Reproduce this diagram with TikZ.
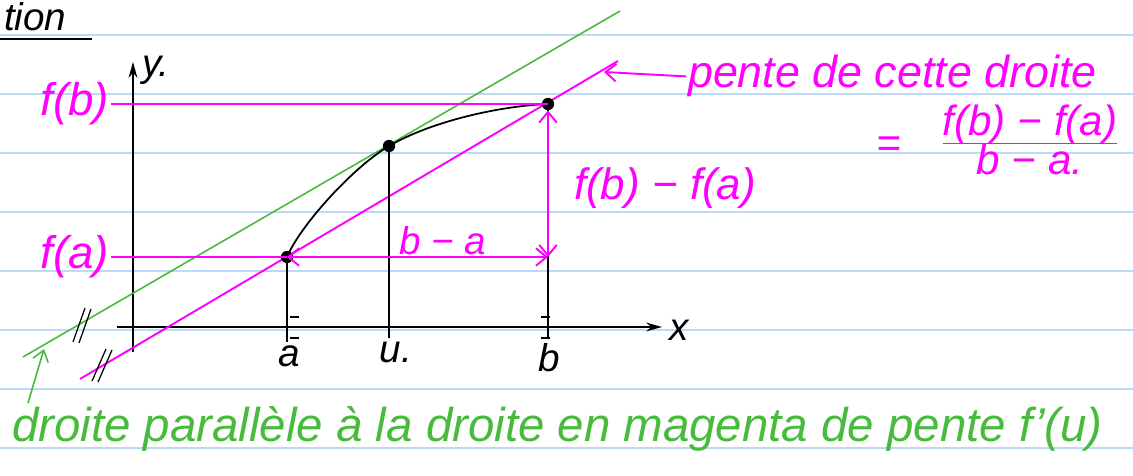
\documentclass[tikz,border=0pt]{standalone}
\usepackage{fontspec}
\setmainfont{Liberation Sans}
\usepackage{xcolor}
\usepackage{tikz}
\usetikzlibrary{
  arrows.meta
}
\definecolor{rulecol}{RGB}{188,218,245}
\definecolor{penmag}{RGB}{255,0,255}
\definecolor{pengreen}{RGB}{72,186,60}
\tikzset{
  >=Latex,
  ruling/.style={rulecol,line width=1pt},
  ink/.style={black,line width=1pt},
  thinink/.style={black,line width=0.7pt},
  magline/.style={penmag,line width=1.1pt},
  grnline/.style={pengreen,line width=0.9pt},
  magarrow/.style={penmag,line width=1.1pt,{Straight Barb[length=6pt,width=10pt]}-{Straight Barb[length=6pt,width=10pt]}},
  axarrow/.style={ink,-{Stealth[length=9pt,width=5pt]}},
  bullet/.style={circle,fill=black,inner sep=0pt,minimum size=7pt},
  hand/.style={font=\fontsize{#1}{#1}\selectfont\itshape,inner sep=1pt},
  hand/.default=22,
  maglabel/.style={hand=#1,text=penmag},
  maglabel/.default=22,
  grnlabel/.style={hand=#1,text=pengreen},
  grnlabel/.default=22,
  axlabel/.style={hand,text=black}
}

\begin{document}
\begin{tikzpicture}[x=0.02cm,y=-0.02cm]
    \useasboundingbox (0,0) rectangle (1133,476);
    \foreach \y in {35,94,153,212,271,330,389,448}
        \draw[ruling] (0,\y) -- (1133,\y);

    \node[axlabel,anchor=base west] (title) at (2,31) {tion};
    \draw[ink] (0,39) -- (92,39);

    % axes
    \coordinate (ybot) at (133,352);
    \coordinate (ytop) at (133,62);
    \coordinate (xleft) at (117,327);
    \coordinate (xright) at (662,327);
    \draw[axarrow] (ybot) -- (ytop);
    \draw[axarrow] (xleft) -- (xright);
    \node[axlabel] (ylab) at (156,70) {y.};
    \node[axlabel] (xlab) at (679,330) {x};

    % secant and tangent
    \coordinate (sec1) at (80,379);
    \coordinate (sec2) at (618,61);
    \coordinate (tan1) at (23,357);
    \coordinate (tan2) at (620,11);
    \draw[magline] (sec1) -- (sec2);
    \draw[grnline] (tan1) -- (tan2);
    \draw[thinink] (85,308) -- (73,342) (91,309) -- (79,343);
    \draw[thinink] (106,349) -- (92,381) (112,350) -- (98,382);

    % curve and points
    \node[bullet] (A) at (287,257) {};
    \node[bullet] (U) at (389,146) {};
    \node[bullet] (B) at (548,104) {};
    \draw[ink] (A.center) .. controls (300,226) and (352,168) .. (U.center)
        .. controls (432,121) and (500,106) .. (B.center);
    \coordinate (Afoot) at (287,342);
    \coordinate (Ufoot) at (389,338);
    \coordinate (Bfoot) at (548,338);
    \draw[ink] (A.center) -- (Afoot);
    \draw[ink] (U.center) -- (Ufoot);
    \draw[ink] (B.center) -- (Bfoot);
    \foreach \x in {290,541}
        \draw[thinink] (\x,317) -- ++(9,0) (\x,338) -- ++(9,0);
    \node[axlabel] (alab) at (289,356) {a};
    \node[axlabel] (ulab) at (396,352) {u.};
    \node[axlabel] (blab) at (549,358) {b};

    % levels f(a), f(b)
    \node[maglabel=26,anchor=east] (fb) at (111,104) {f(b)};
    \node[maglabel=26,anchor=east] (fa) at (111,257) {f(a)};
    \coordinate (Bfa) at (548,257);
    \draw[magline] (fb.east) -- (B.center);
    \draw[magline] (fa.east) -- (A.center);
    \draw[magarrow] (A.center) -- (Bfa);
    \draw[magarrow] (Bfa) -- (B.south);
    \node[maglabel] (ba) at (443,241) {b − a};
    \node[maglabel=25] (rise) at (665,188) {f(b) − f(a)};

    % slope note
    \node[maglabel=25.5,anchor=base west] (pente) at (686,88) {pente de cette droite};
    \coordinate (ptip) at (604,72);
    \draw[magline,-{Straight Barb[length=6pt,width=10pt]}] (pente.west) -- (ptip);
    \node[maglabel=24] (eq) at (889,147) {=};
    \node[maglabel=24] (quot) at (1030,146) {\begin{tabular}{@{}c@{}}f(b) − f(a)\\[-3pt]\hline b − a.\end{tabular}};

    % green note
    \node[grnlabel=27,anchor=base west] (parallel) at (10,441) {droite parallèle à la droite en magenta de pente f’(u)};
    \coordinate (gtail) at (28,403);
    \coordinate (gtip) at (44,349);
    \draw[grnline,-{Straight Barb[length=6pt,width=9pt]}] (gtail) -- (gtip);
\end{tikzpicture}
\end{document}
